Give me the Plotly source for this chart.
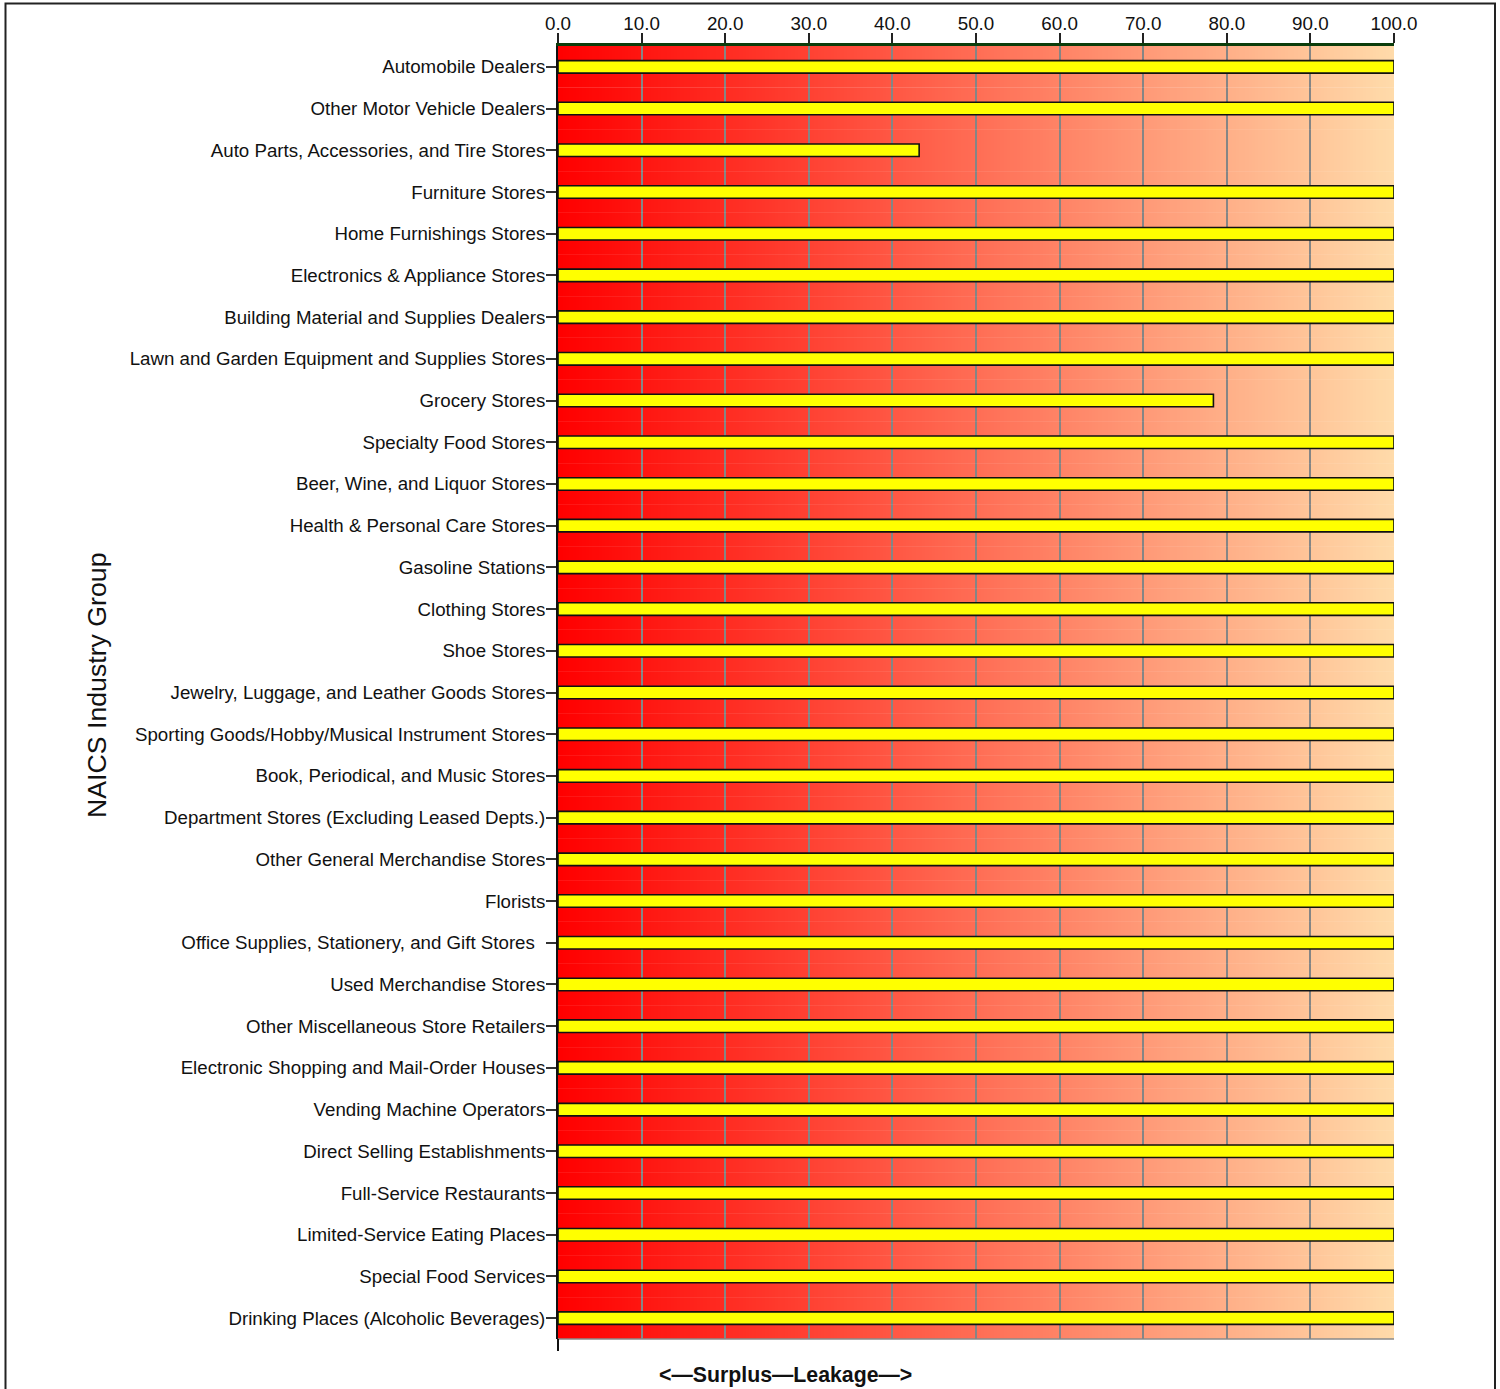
import base64
import struct
import zlib

import plotly.graph_objects as go

# ---------------- data ----------------
categories = [
    "Automobile Dealers",
    "Other Motor Vehicle Dealers",
    "Auto Parts, Accessories, and Tire Stores",
    "Furniture Stores",
    "Home Furnishings Stores",
    "Electronics & Appliance Stores",
    "Building Material and Supplies Dealers",
    "Lawn and Garden Equipment and Supplies Stores",
    "Grocery Stores",
    "Specialty Food Stores",
    "Beer, Wine, and Liquor Stores",
    "Health & Personal Care Stores",
    "Gasoline Stations",
    "Clothing Stores",
    "Shoe Stores",
    "Jewelry, Luggage, and Leather Goods Stores",
    "Sporting Goods/Hobby/Musical Instrument Stores",
    "Book, Periodical, and Music Stores",
    "Department Stores (Excluding Leased Depts.)",
    "Other General Merchandise Stores",
    "Florists",
    "Office Supplies, Stationery, and Gift Stores\u00a0\u00a0",
    "Used Merchandise Stores",
    "Other Miscellaneous Store Retailers",
    "Electronic Shopping and Mail-Order Houses",
    "Vending Machine Operators",
    "Direct Selling Establishments",
    "Full-Service Restaurants",
    "Limited-Service Eating Places",
    "Special Food Services",
    "Drinking Places (Alcoholic Beverages)",
]

leakage_values = [
    100.0, 100.0, 43.2, 100.0, 100.0, 100.0, 100.0, 100.0,
    78.4, 100.0, 100.0, 100.0, 100.0, 100.0, 100.0, 100.0,
    100.0, 100.0, 100.0, 100.0, 100.0, 100.0, 100.0, 100.0,
    100.0, 100.0, 100.0, 100.0, 100.0, 100.0, 100.0,
]

x_tick_values = [0, 10, 20, 30, 40, 50, 60, 70, 80, 90, 100]
x_tick_labels = ["0.0", "10.0", "20.0", "30.0", "40.0", "50.0",
                 "60.0", "70.0", "80.0", "90.0", "100.0"]

axis_title_y = "NAICS Industry Group"
axis_title_x = "<\u2014Surplus\u2014Leakage\u2014>"


# ---------------- background gradient (style) ----------------
def gradient_png(c0, c1, n=256):
    row = bytearray([0])
    for i in range(n):
        t = i / (n - 1)
        for a, b in zip(c0, c1):
            row.append(int(round(a + (b - a) * t)))
    raw = bytes(row)

    def chunk(tag, data):
        c = struct.pack(">I", len(data)) + tag + data
        return c + struct.pack(">I", zlib.crc32(tag + data) & 0xFFFFFFFF)

    png = b"\x89PNG\r\n\x1a\n"
    png += chunk(b"IHDR", struct.pack(">IIBBBBB", n, 1, 8, 2, 0, 0, 0))
    png += chunk(b"IDAT", zlib.compress(raw))
    png += chunk(b"IEND", b"")
    return "data:image/png;base64," + base64.b64encode(png).decode()


grad_src = gradient_png((255, 0, 0), (255, 219, 170))

FONT = "Liberation Sans, Arial, Helvetica, sans-serif"

fig = go.Figure()

fig.add_trace(go.Bar(
    x=leakage_values,
    y=categories,
    orientation="h",
    width=0.3,
    marker=dict(color="#FFFF00", line=dict(color="#111111", width=1.6)),
    showlegend=False,
    hoverinfo="x+y",
))

# invisible helper trace on a second y axis to draw row boundary lines
fig.add_trace(go.Bar(
    x=[None] * len(categories),
    y=categories,
    orientation="h",
    yaxis="y2",
    showlegend=False,
    hoverinfo="skip",
))

W, H = 1500, 1389
L, R, T, B = 558, 106, 46, 50
plot_w = W - L - R
plot_h = H - T - B


def px_x(px):
    return (px - L) / plot_w


def px_y(py):
    return (H - B - py) / plot_h


fig.update_layout(
    width=W,
    height=H,
    margin=dict(l=L, r=R, t=T, b=B, pad=0),
    paper_bgcolor="white",
    plot_bgcolor="rgba(0,0,0,0)",
    font=dict(family=FONT, color="#111111", size=18.7),
    bargap=0.7,
    xaxis=dict(
        side="top",
        range=[0, 100],
        tickmode="array",
        tickvals=x_tick_values,
        ticktext=x_tick_labels,
        tickfont=dict(size=18.8, family=FONT, color="#111111"),
        ticks="outside",
        ticklen=10,
        tickwidth=1.5,
        tickcolor="#222222",
        ticklabelstandoff=-4,
        showgrid=True,
        gridcolor="#858585",
        gridwidth=1.5,
        showline=True,
        linecolor="#0b3d0b",
        linewidth=2.5,
        zeroline=False,
        fixedrange=True,
    ),
    yaxis=dict(
        type="category",
        categoryorder="array",
        categoryarray=categories,
        autorange="reversed",
        tickfont=dict(size=18.7, family=FONT, color="#111111"),
        ticks="outside",
        ticklen=10,
        tickwidth=1.5,
        tickcolor="#333333",
        ticklabelstandoff=-3,
        showgrid=False,
        showline=True,
        linecolor="#111111",
        linewidth=2,
        zeroline=False,
        fixedrange=True,
    ),
    yaxis2=dict(
        type="category",
        categoryorder="array",
        categoryarray=categories,
        autorange="reversed",
        overlaying="y",
        side="left",
        tickson="boundaries",
        showticklabels=False,
        ticks="",
        showgrid=True,
        gridcolor="rgba(255,255,255,0.08)",
        gridwidth=1,
        showline=False,
        zeroline=False,
        fixedrange=True,
    ),
    images=[dict(
        source=grad_src,
        xref="x", yref="paper",
        x=0, y=1,
        sizex=100, sizey=1,
        xanchor="left", yanchor="top",
        sizing="stretch",
        layer="below",
    )],
    shapes=[
        # bottom edge of plot (gray)
        dict(type="line", xref="paper", yref="paper", x0=0, x1=1, y0=0, y1=0,
             line=dict(color="#8a8a8a", width=1.5), layer="below"),
        # y axis line extension below the plot
        dict(type="line", xref="paper", yref="paper", x0=0, x1=0,
             y0=0, y1=px_y(1351), line=dict(color="#111111", width=2)),
        # outer frame
        dict(type="rect", xref="paper", yref="paper",
             x0=px_x(5.5), x1=px_x(1495), y0=px_y(1400), y1=px_y(3.5),
             line=dict(color="#222222", width=2), fillcolor="rgba(0,0,0,0)"),
    ],
    annotations=[
        dict(text=axis_title_y, xref="paper", yref="paper",
             x=px_x(97), y=px_y(685), textangle=-90, showarrow=False,
             xanchor="center", yanchor="middle",
             font=dict(size=26.7, family=FONT, color="#111111")),
        dict(text="<b>" + axis_title_x + "</b>", xref="paper", yref="paper",
             x=px_x(785), y=px_y(1375), showarrow=False,
             xanchor="center", yanchor="middle",
             font=dict(size=21.3, family=FONT, color="#111111")),
    ],
)

fig.write_html(
    "out.html",
    config={"displayModeBar": False},
    post_script="document.body.style.margin='0';document.body.style.overflow='hidden';",
)
